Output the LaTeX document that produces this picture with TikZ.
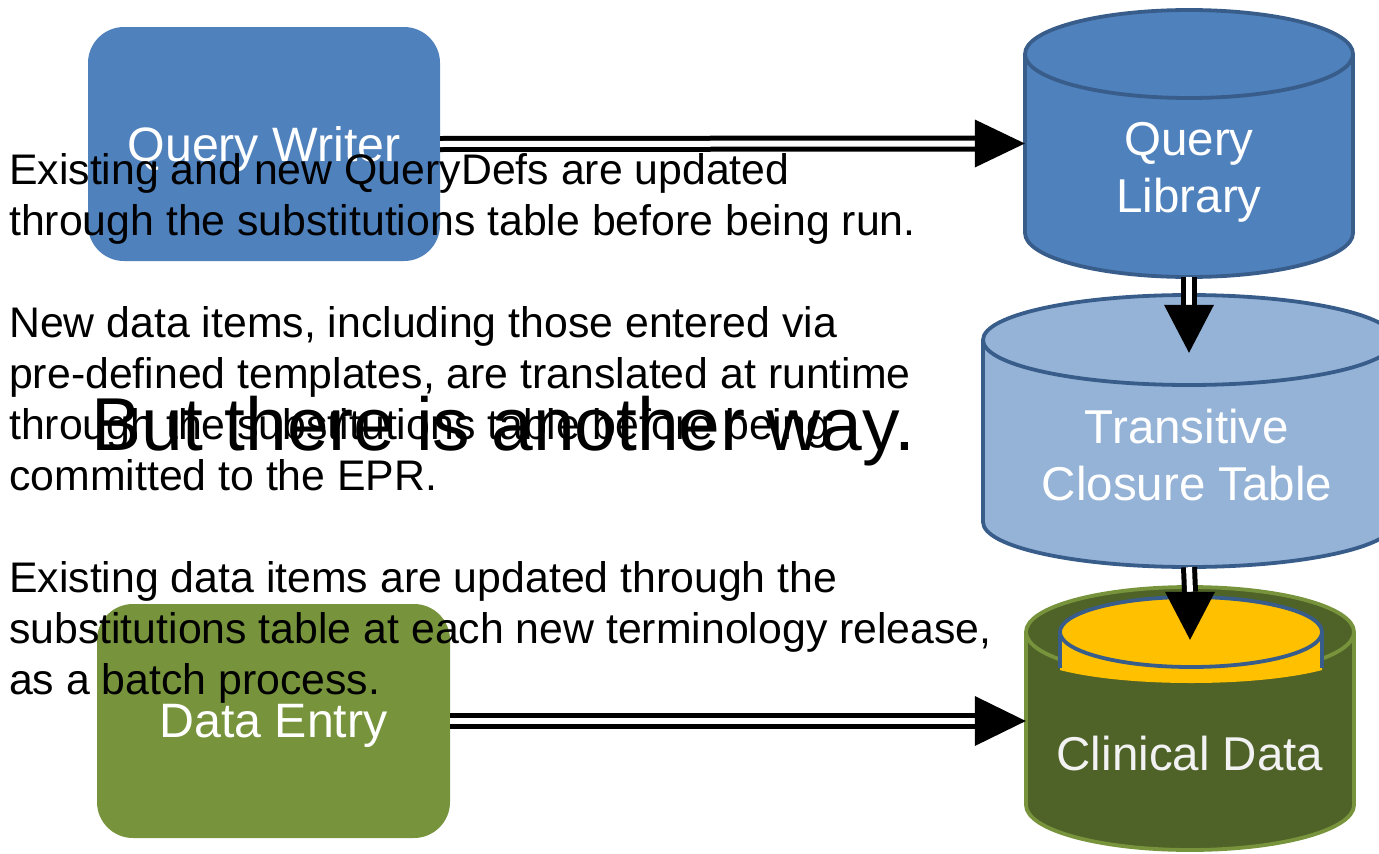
\documentclass[tikz,border=0pt]{standalone}
\usepackage{fontspec}
\setmainfont{Liberation Sans}
\usetikzlibrary{calc}

\definecolor{qblue}{HTML}{4F81BD}
\definecolor{lblue}{HTML}{95B3D7}
\definecolor{rimblue}{HTML}{385D8A}
\definecolor{olive}{HTML}{77933C}
\definecolor{darkolive}{HTML}{4F6228}
\definecolor{gold}{HTML}{FFC000}
\definecolor{paletext}{HTML}{F2F2F2}

% vertical cylinder: centre x, top-ellipse y, bottom-ellipse y, rx, ry, fill, rim
\newcommand\drawcyl[7]{%
  \filldraw[fill=#6, draw=#7, line width=3.8pt] (#1,#3) ellipse [x radius=#4pt, y radius=#5pt];
  \fill[#6] (#1-#4,#2) rectangle (#1+#4,#3);
  \draw[#7, line width=3.8pt] (#1-#4,#2) -- (#1-#4,#3) (#1+#4,#2) -- (#1+#4,#3);
  \filldraw[fill=#6, draw=#7, line width=3.8pt] (#1,#2) ellipse [x radius=#4pt, y radius=#5pt];
}

\tikzset{
  procbox/.style={rounded corners=36pt, inner sep=0pt, text=white, text depth=0pt,
    font=\fontsize{48.3}{57}\selectfont},
  cylarea/.style={inner sep=0pt, draw=none},
  cyllabel/.style={align=center, inner sep=0pt, text=white,
    font=\fontsize{47.5}{57}\selectfont},
  dbl/.style={draw=black, line width=5pt, double=white, double distance=6pt},
  note/.style={anchor=base west, inner sep=0pt, font=\fontsize{42.8}{51}\selectfont},
}

\begin{document}
\begin{tikzpicture}[x=1pt, y=-1pt]
  \useasboundingbox (0,0) rectangle (1379,854);
  \clip (0,0) rectangle (1379,854);

  % process boxes
  \node[procbox, fill=qblue, minimum width=352pt, minimum height=234pt] (qw) at (264,144) {Query Writer};
  \node[procbox, fill=olive, minimum width=353pt, minimum height=234pt] (de) at (273.5,721) {Data Entry};

  % data stores
  \drawcyl{1189}{54}{233}{164}{44}{qblue}{rimblue}
  \node[cylarea, minimum width=328pt, minimum height=267pt] (ql) at (1189,143.5) {};
  \drawcyl{1189}{340}{522}{206}{45}{lblue}{rimblue}
  \node[cylarea, minimum width=412pt, minimum height=272pt] (tc) at (1189,431) {};
  \drawcyl{1190}{632}{805}{164}{45}{darkolive}{olive}
  \node[cylarea, minimum width=328pt, minimum height=263pt] (cd) at (1190,718.5) {};

  % closure table sitting inside the clinical data store
  \begin{scope}
    \clip (1060,600) rectangle (1322,700);
    \fill[gold] (1191,650) ellipse [x radius=165pt, y radius=33pt];
    \fill[gold] (1060,632) rectangle (1322,650);
  \end{scope}
  \draw[rimblue, line width=3.8pt] (1060,632) -- (1060,668) (1322,632) -- (1322,668);
  \filldraw[fill=gold, draw=rimblue, line width=3.8pt] (1191,632) ellipse [x radius=131pt, y radius=35pt];

  % store labels
  \node[cyllabel] (qlt) at (1189,172) {Query\\Library};
  \node[cyllabel] (tct) at (1187,455) {Transitive\\Closure Table};
  \node[cyllabel, text=paletext] (cdt) at (1190,754) {Clinical Data};

  % connectors
  \draw[dbl] (qw.east) -- ($(ql.west)+(-50,0)$);
  \fill (ql.west) -- ++(-50,-24) -- ++(0,48) -- cycle;

  \coordinate (cdin) at (cd.west |- de.east);
  \draw[dbl] (de.east) -- ($(cdin)+(-51,0)$);
  \fill (cdin) -- ++(-51,-25) -- ++(0,50) -- cycle;

  \draw[dbl] (ql.south) -- ($(tc.north)+(0,10)$);
  \fill ($(tc.north)+(0,58)$) -- ++(-25,-48) -- ++(50,0) -- cycle;

  \draw[dbl] (tc.south) -- ($(cd.north)+(0,5)$);
  \fill ($(cd.north)+(0,53)$) -- ++(-25,-48) -- ++(50,0) -- cycle;

  % notes
  \node[note] (n1) at (9,184) {\begin{tabular}[t]{@{}l@{}}Existing and new QueryDefs are updated\\through the substitutions table before being run.\end{tabular}};
  \node[note] (n2) at (9,337) {\begin{tabular}[t]{@{}l@{}}New data items, including those entered via\\pre-defined templates, are translated at runtime\\through the substitutions table before being\\committed to the EPR.\end{tabular}};
  \node[note] (n3) at (9,592) {\begin{tabular}[t]{@{}l@{}}Existing data items are updated through the\\substitutions table at each new terminology release,\\as a batch process.\end{tabular}};

  \node[anchor=base west, inner sep=0pt, font=\fontsize{75}{82}\selectfont] (way) at (91,450) {But there is another way.};
\end{tikzpicture}
\end{document}
